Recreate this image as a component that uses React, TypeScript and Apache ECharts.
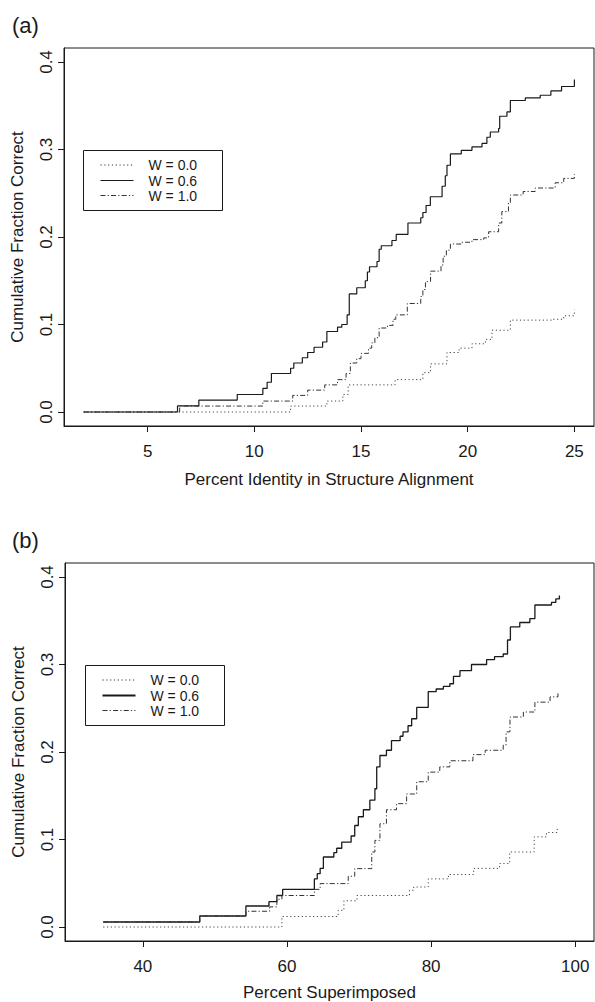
import React, { useEffect, useRef } from "react";
import * as echarts from "echarts";

// ---- Data ----
const legendLabels = ["W = 0.0", "W = 0.6", "W = 1.0"];

// Panel (a): Percent Identity in Structure Alignment
const a_xTicks = [5, 10, 15, 20, 25];
const yTicks = [0, 0.1, 0.2, 0.3, 0.4];

const a_w00: number[][] = [
  [2, 0], [11.7, 0.0068], [13.4, 0.0125], [14.15, 0.02], [14.4, 0.031], [16.6, 0.037],
  [17.9, 0.045], [18.26, 0.055], [19.03, 0.068], [19.6, 0.073], [20.2, 0.078],
  [20.83, 0.083], [21.14, 0.0935], [22.0, 0.105], [24.0, 0.106], [24.5, 0.11], [25, 0.117],
];
const a_w06: number[][] = [
  [2, 0], [6.4, 0.007], [7.4, 0.0136], [9.2, 0.02], [10.4, 0.027], [10.6, 0.034], [10.8, 0.044],
  [11.7, 0.05], [11.85, 0.056], [12.25, 0.062], [12.5, 0.068], [12.8, 0.074], [13.2, 0.08],
  [13.4, 0.092], [13.9, 0.097], [14.1, 0.1], [14.35, 0.111], [14.45, 0.135], [14.8, 0.142],
  [15.2, 0.15], [15.3, 0.16], [15.4, 0.166], [15.75, 0.172], [15.85, 0.186], [15.95, 0.19],
  [16.45, 0.196], [16.65, 0.203], [17.2, 0.216], [17.8, 0.222], [17.9, 0.228], [18.05, 0.236],
  [18.25, 0.246], [18.8, 0.258], [18.95, 0.27], [19.03, 0.282], [19.19, 0.295], [19.7, 0.299],
  [20.2, 0.303], [20.67, 0.307], [20.9, 0.314], [21.06, 0.32], [21.45, 0.324], [21.5, 0.338],
  [21.84, 0.343], [22.0, 0.356], [22.7, 0.359], [23.4, 0.362], [23.9, 0.367], [24.4, 0.372],
  [25, 0.38],
];
const a_w10: number[][] = [
  [2, 0], [6.5, 0.0068], [10.4, 0.0125], [11.8, 0.019], [12.5, 0.025], [13.3, 0.031],
  [13.9, 0.037], [14.3, 0.044], [14.5, 0.056], [14.8, 0.061], [15.0, 0.067], [15.35, 0.073],
  [15.5, 0.079], [15.65, 0.085], [15.85, 0.096], [16.24, 0.099], [16.5, 0.106], [16.63, 0.111],
  [17.17, 0.124], [17.8, 0.132], [17.9, 0.14], [18.02, 0.149], [18.26, 0.161], [18.75, 0.168],
  [18.85, 0.178], [19.0, 0.185], [19.19, 0.192], [19.7, 0.194], [20.2, 0.197], [20.75, 0.199],
  [20.98, 0.206], [21.45, 0.216], [21.6, 0.229], [21.91, 0.239], [22.0, 0.248], [22.6, 0.252],
  [23.16, 0.256], [24.1, 0.262], [24.5, 0.267], [25, 0.272],
];

// Panel (b): Percent Superimposed
const b_xTicks = [40, 60, 80, 100];

const b_w00: number[][] = [
  [34.5, 0], [59.3, 0.012], [67.1, 0.019], [67.9, 0.03], [69.7, 0.036], [77.0, 0.042],
  [77.6, 0.0457], [79.6, 0.055], [82.4, 0.06], [85.9, 0.067], [89.5, 0.0725], [90.9, 0.0857],
  [94.3, 0.103], [96.0, 0.108], [97.5, 0.114],
];
const b_w06: number[][] = [
  [34.5, 0.0057], [47.9, 0.0126], [54.3, 0.024], [57.5, 0.029], [58.6, 0.036], [59.4, 0.043],
  [63.8, 0.055], [64.2, 0.061], [64.6, 0.067], [65.05, 0.08], [66.5, 0.085], [66.9, 0.09],
  [67.6, 0.097], [68.9, 0.104], [69.4, 0.116], [69.9, 0.126], [70.6, 0.134], [71.5, 0.145],
  [72.2, 0.158], [72.45, 0.183], [72.9, 0.196], [73.8, 0.202], [74.5, 0.213], [75.7, 0.218],
  [76.1, 0.223], [76.8, 0.23], [77.3, 0.238], [78.0, 0.251], [79.6, 0.269], [80.7, 0.272],
  [81.7, 0.275], [82.6, 0.278], [83.1, 0.2865], [84.0, 0.293], [85.6, 0.3], [87.7, 0.3056],
  [88.8, 0.309], [90.0, 0.312], [90.6, 0.328], [91.0, 0.343], [92.3, 0.348], [93.7, 0.3525],
  [94.4, 0.368], [96.7, 0.371], [97.3, 0.375], [97.8, 0.379],
];
const b_w10: number[][] = [
  [34.5, 0.0057], [47.9, 0.0126], [54.3, 0.018], [57.6, 0.023], [58.6, 0.0317], [59.3, 0.036],
  [63.8, 0.043], [64.6, 0.0496], [68.5, 0.058], [69.4, 0.0667], [71.76, 0.0857], [72.2, 0.099],
  [72.9, 0.118], [73.8, 0.134], [75.2, 0.141], [76.6, 0.152], [78.0, 0.166], [79.6, 0.177],
  [81.2, 0.183], [82.6, 0.19], [85.8, 0.197], [87.5, 0.202], [90.0, 0.2077], [90.4, 0.223],
  [90.94, 0.24], [92.8, 0.2457], [94.4, 0.257], [96.5, 0.263], [97.6, 0.2686],
];

const FONT = "Liberation Sans, Arial, Helvetica, sans-serif";
const INK = "#1a1a1a";
const DOT: number[] = [1.2, 2.6];
const DASHDOT: number[] = [5, 2.2, 1.2, 2.2];

function buildXAxis(gridIndex: number, min: number, max: number, ticks: number[], name: string, nameGap: number) {
  return {
    type: "value",
    gridIndex,
    min,
    max,
    name,
    nameLocation: "middle",
    nameGap,
    nameTextStyle: { color: INK, fontSize: 17, fontFamily: FONT },
    axisLine: { show: true, onZero: false, lineStyle: { color: INK, width: 1 } },
    axisTick: { show: true, inside: false, length: 6, customValues: ticks, lineStyle: { color: INK } },
    axisLabel: {
      show: true,
      customValues: ticks,
      margin: 17,
      color: INK,
      fontSize: 17,
      fontFamily: FONT,
      formatter: (v: number) => String(v),
    },
    splitLine: { show: false },
  };
}

function buildYAxis(gridIndex: number) {
  return {
    type: "value",
    gridIndex,
    min: -0.016,
    max: 0.416,
    name: "Cumulative Fraction Correct",
    nameLocation: "middle",
    nameGap: 38,
    nameTextStyle: { color: INK, fontSize: 17, fontFamily: FONT },
    axisLine: { show: true, onZero: false, lineStyle: { color: INK, width: 1 } },
    axisTick: { show: true, inside: false, length: 6, customValues: yTicks, lineStyle: { color: INK } },
    axisLabel: {
      show: true,
      customValues: yTicks,
      rotate: 90,
      margin: 9,
      color: INK,
      fontSize: 17,
      fontFamily: FONT,
      formatter: (v: number) => v.toFixed(1),
    },
    splitLine: { show: false },
  };
}

function lineSeries(name: string, data: number[][], idx: number, type: any, width: number, color: string) {
  return {
    name,
    type: "line",
    xAxisIndex: idx,
    yAxisIndex: idx,
    data,
    step: "end",
    showSymbol: false,
    symbol: "none",
    lineStyle: { color, width, type },
    silent: true,
  };
}

function legendGraphic(left: number, top: number, solidWidth: number) {
  const rowY = [14.5, 30, 45];
  const styles = [
    { lineDash: DOT, lineWidth: 1, stroke: "#333" },
    { lineDash: null, lineWidth: solidWidth, stroke: INK },
    { lineDash: DASHDOT, lineWidth: 1, stroke: "#333" },
  ];
  const children: any[] = [
    {
      type: "rect",
      shape: { x: 0, y: 0, width: 139, height: 60 },
      style: { fill: "#fff", stroke: INK, lineWidth: 1 },
    },
  ];
  legendLabels.forEach((lab, i) => {
    children.push({
      type: "line",
      shape: { x1: 17, y1: rowY[i], x2: 50, y2: rowY[i] },
      style: { stroke: styles[i].stroke, lineWidth: styles[i].lineWidth, lineDash: styles[i].lineDash },
    });
    children.push({
      type: "text",
      x: 65,
      y: rowY[i],
      style: { text: lab, fill: INK, font: `14px ${FONT}`, verticalAlign: "middle", align: "left" },
    });
  });
  return { type: "group", left, top, children };
}

export default function App() {
  const ref = useRef<HTMLDivElement>(null);

  useEffect(() => {
    if (!ref.current) return;
    const chart = echarts.init(ref.current, null, { renderer: "svg" });
    const option: any = {
      animation: false,
      backgroundColor: "#fff",
      grid: [
        { left: 64, top: 48, width: 530, height: 378, show: true, borderColor: INK, borderWidth: 1, backgroundColor: "transparent" },
        { left: 65, top: 563, width: 529, height: 378, show: true, borderColor: INK, borderWidth: 1, backgroundColor: "transparent" },
      ],
      xAxis: [
        buildXAxis(0, 1.08, 25.92, a_xTicks, "Percent Identity in Structure Alignment", 45),
        buildXAxis(1, 29.2, 102.6, b_xTicks, "Percent Superimposed", 43),
      ],
      yAxis: [buildYAxis(0), buildYAxis(1)],
      series: [
        lineSeries(legendLabels[0], a_w00, 0, DOT, 1, "#444"),
        lineSeries(legendLabels[1], a_w06, 0, "solid", 1.2, INK),
        lineSeries(legendLabels[2], a_w10, 0, DASHDOT, 1, "#333"),
        lineSeries(legendLabels[0], b_w00, 1, DOT, 1, "#444"),
        lineSeries(legendLabels[1], b_w06, 1, "solid", 1.3, INK),
        lineSeries(legendLabels[2], b_w10, 1, DASHDOT, 1, "#333"),
      ],
      graphic: [
        { type: "text", left: 12, top: 14, style: { text: "(a)", fill: INK, font: `22px ${FONT}` } },
        { type: "text", left: 12, top: 529, style: { text: "(b)", fill: INK, font: `22px ${FONT}` } },
        legendGraphic(83, 150, 1),
        legendGraphic(85, 665, 2),
      ],
    };
    chart.setOption(option);
    return () => chart.dispose();
  }, []);

  return (
    <div
      ref={ref}
      style={{ position: "absolute", left: 0, top: 0, width: 595, height: 1002, background: "#fff" }}
    />
  );
}
